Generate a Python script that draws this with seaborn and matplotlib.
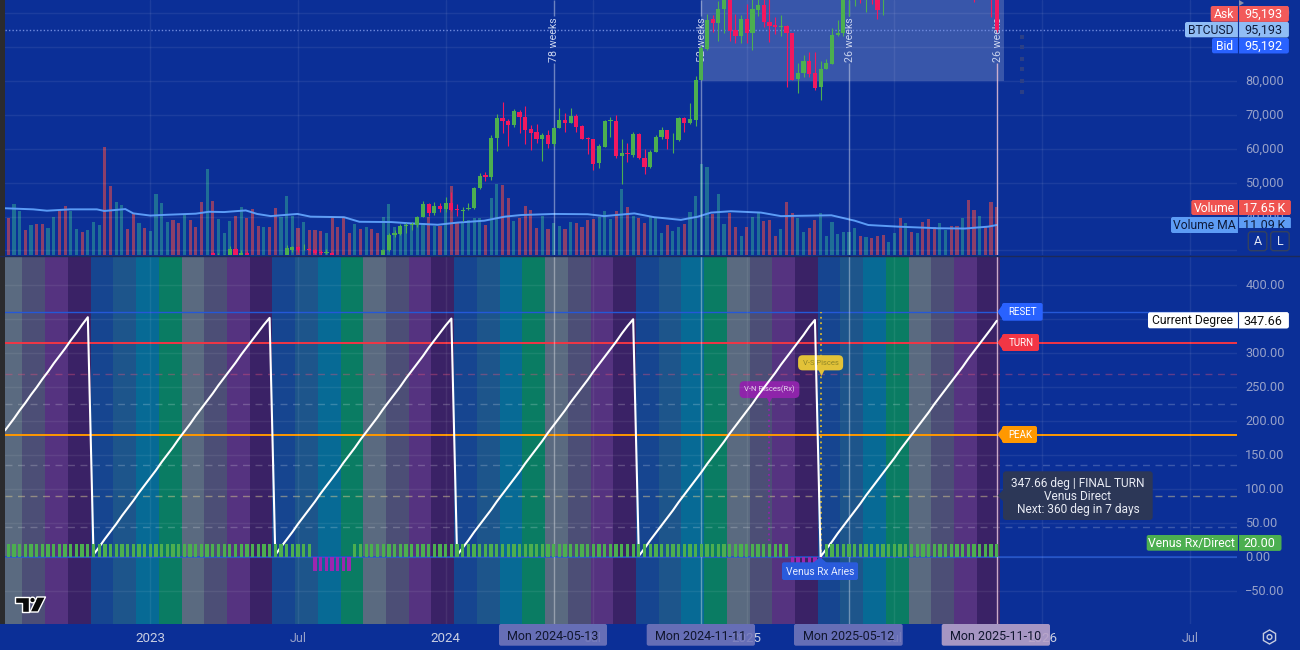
import numpy as np
import pandas as pd
import matplotlib.pyplot as plt
import seaborn as sns
from matplotlib.patches import FancyBboxPatch, Polygon, Rectangle, RegularPolygon, Circle
from matplotlib.transforms import ScaledTranslation

BG = "#0b2f97"
GREEN = "#4caf50"
RED = "#f2185f"

# weekly volume in thousands
volume = [
    13.6, 18.9, 16.4, 9.3, 11.0, 11.5, 11.5, 10.0, 14.2, 16.4,
    18.3, 16.4, 9.5, 8.5, 9.3, 12.1, 11.2, 39.9, 25.6, 19.6,
    18.4, 9.8, 15.4, 11.7, 10.0, 8.9, 22.5, 19.1, 12.2, 13.0,
    11.9, 14.8, 13.0, 10.2, 19.6, 31.9, 19.9, 13.2, 8.0, 12.6,
    14.4, 17.9, 13.8, 16.9, 10.7, 10.2, 10.4, 17.4, 14.0, 21.7,
    14.4, 10.0, 12.1, 9.1, 9.4, 8.9, 8.1, 13.6, 10.4, 13.6,
    8.3, 11.5, 9.6, 10.2, 9.5, 8.3, 14.2, 19.0, 10.2, 10.5,
    11.7, 11.5, 11.5, 11.7, 14.2, 10.7, 10.7, 17.3, 25.6, 11.7,
    12.3, 13.0, 13.6, 13.6, 11.0, 21.1, 26.3, 25.8, 21.1, 12.6,
    13.7, 18.1, 16.7, 10.0, 14.4, 9.5, 11.7, 10.7, 9.6, 12.2,
    11.7, 10.5, 13.0, 13.2, 14.2, 16.4, 13.2, 16.2, 24.3, 17.8,
    14.4, 13.7, 12.0, 14.0, 13.6, 8.1, 11.1, 9.0, 10.4, 11.5,
    15.8, 21.7, 33.6, 32.6, 15.2, 22.6, 11.4, 15.7, 10.4, 7.2,
    10.4, 14.2, 15.4, 12.6, 13.0, 6.9, 9.8, 19.8, 15.4, 13.7,
    8.5, 10.0, 13.0, 15.7, 6.9, 12.2, 7.9, 8.6, 8.4, 10.0,
    7.0, 6.7, 6.3, 7.0, 7.3, 4.9, 8.1, 13.8, 11.7, 8.5,
    8.1, 12.3, 13.3, 10.5, 11.9, 9.4, 10.7, 10.7, 13.6, 20.2,
    16.8, 14.4, 10.2, 19.6, 17.65,
]
volume_side = (
    "rttrtrrttr" "rttrtttrrt" "trrtrttttr" "rtrrrtrttt" "rtrrrtrrtt"
    "trtrrrtrrr" "rtrtrrtttt" "ttttrtrtrr" "ttttrttrrt" "rrrrtrttrt"
    "rrrrtttrtr" "trrtttrttr" "ttttrttrrt" "rttrrrtrrt" "trrttttttt"
    "rtrrrttrtr" "trrrttrrtr" "rtrrr"
)

ma_weeks = [-0.58, 4.4, 6.8, 10.9, 15.6, 16.9, 20.6, 22, 25, 28, 33, 35.3, 38, 41.8, 43.8, 46.2,
            50.9, 53.2, 59.1, 61.8, 67.4, 70.9, 75.6, 79.1, 83.8, 87.4, 90.3, 96, 102, 104.9,
            110.2, 113.7, 118.4, 121.4, 123.7, 127.2, 132.5, 136, 144.9, 149, 151.4, 156.6,
            163.7, 168.4, 172.5, 174]
ma_values = [17.3, 16.9, 16.4, 16.9, 16.9, 16.3, 17.0, 15.4, 14.6, 14.9, 15.3, 16.0, 15.9, 16.5, 15.2, 14.4,
             15.2, 14.2, 14.0, 12.3, 12.2, 11.7, 11.2, 12.0, 12.7, 14.2, 14.8, 15.2, 15.1, 14.4,
             15.4, 14.0, 13.0, 14.2, 15.7, 16.2, 15.7, 14.4, 14.7, 12.7, 11.1, 10.5,
             9.9, 9.8, 10.5, 11.09]

# candles inside the visible price window, prices in thousands
candle_weeks = [36, 37, 38, 39, 40, 41, 42, 49, 50, 51, 52, 53, 54, 55, 56, 57,
                66, 67, 68, 69, 70, 71, 72, 73, 74, 75, 76, 77, 78, 79, 80, 81, 82, 83, 84, 85, 86, 87, 88, 89,
                90, 91, 92, 93, 94, 95, 96, 97, 98, 99, 100, 101, 102, 103, 104, 105, 106, 107, 108, 109,
                110, 111, 112, 113, 114, 115, 116, 117, 118, 119, 120, 121, 122, 123, 124, 125, 126, 127, 128, 129,
                130, 131, 132, 133, 134, 135, 136, 137, 138, 139, 140, 141, 142, 143, 144, 145, 146, 147,
                148, 149, 150, 151, 152, 153, 154, 170, 173, 174]
candle_open = [29.4, 28.0, 28.0, 27.8, 30.5, 28.0, 29.2, 28.0, 30.0, 30.9, 30.3, 30.4, 30.2, 29.5, 29.3, 29.4,
               27.9, 30.0, 34.5, 34.9, 37.1, 37.4, 37.4, 39.9, 43.7, 41.2, 43.2, 42.3, 43.9, 42.1, 41.7, 42.1, 42.5, 48.3, 52.3, 51.8, 63.1, 69.1, 68.3, 67.1,
               71.0, 69.3, 65.8, 65.0, 62.9, 64.1, 61.4, 66.1, 68.5, 67.6, 69.7, 66.7, 63.2, 62.8, 55.8, 60.6, 68.3, 68.2, 58.0, 58.8,
               58.3, 64.3, 57.4, 54.7, 59.1, 63.4, 65.6, 62.8, 62.7, 69.1, 67.7, 68.5, 80.3, 89.5, 98.2, 97.0, 101.1, 106.0, 95.1, 93.3,
               98.3, 94.3, 100.9, 102.4, 97.5, 96.5, 96.0, 96.2, 94.2, 80.6, 82.3, 85.9, 82.3, 78.3, 83.5, 85.0, 93.6, 94.1,
               105.0, 106.0, 107.0, 106.0, 107.0, 106.0, 104.5, 108.0, 107.0, 106.0]
candle_close = [28.0, 28.4, 28.4, 30.4, 27.9, 29.2, 28.0, 30.7, 31.0, 30.1, 30.5, 30.2, 29.2, 29.2, 29.7, 28.6,
                30.0, 34.6, 35.1, 37.3, 37.5, 37.8, 39.9, 43.7, 41.2, 43.2, 42.2, 43.9, 41.8, 41.9, 42.0, 42.6, 48.3, 52.0, 51.6, 63.2, 69.0, 68.3, 67.1, 71.2,
                69.5, 65.6, 64.8, 62.9, 64.1, 61.4, 66.2, 68.5, 67.6, 69.7, 66.5, 62.9, 62.9, 55.6, 60.9, 68.2, 68.5, 57.9, 58.8, 58.5,
                64.3, 57.2, 54.7, 59.2, 63.5, 65.6, 62.8, 63.0, 69.0, 67.7, 68.7, 80.3, 89.8, 98.0, 97.0, 101.1, 106.0, 94.9, 93.4, 98.3,
                94.1, 101.1, 102.5, 97.5, 96.3, 96.0, 96.3, 94.1, 80.3, 82.3, 85.9, 82.1, 78.0, 83.5, 85.2, 93.6, 94.1, 105.0,
                107.0, 108.0, 106.0, 107.0, 106.0, 100.9, 106.0, 107.0, 106.0, 95.193]
candle_high = [29.5, 29.2, 29.0, 31.2, 30.6, 30.0, 29.8, 31.5, 31.3, 31.3, 31.9, 30.6, 30.4, 30.1, 30.4, 29.7,
               30.4, 35.2, 36.1, 37.7, 38.0, 38.5, 40.3, 44.7, 43.9, 44.4, 43.9, 45.9, 47.4, 43.7, 42.8, 43.9, 48.6, 52.8, 53.1, 64.0, 70.2, 73.7, 68.9, 71.6,
               71.5, 72.7, 67.0, 67.2, 64.6, 65.6, 66.5, 72.1, 70.7, 72.1, 70.2, 66.9, 63.4, 62.8, 61.4, 68.5, 69.3, 70.0, 62.9, 61.6,
               65.1, 64.6, 59.8, 59.7, 64.1, 66.5, 65.6, 64.6, 69.5, 69.5, 73.6, 81.5, 90.6, 99.8, 99.5, 103.6, 108.0, 108.0, 99.8, 99.5,
               102.7, 105.0, 106.0, 106.0, 105.0, 98.8, 99.5, 96.5, 94.2, 85.2, 87.7, 88.7, 88.5, 86.0, 86.4, 95.7, 98.0, 106.0,
               108.0, 109.0, 109.0, 108.0, 109.0, 107.0, 107.0, 110.0, 109.0, 108.0]
candle_low = [27.5, 27.5, 27.5, 27.5, 27.5, 27.6, 27.5, 27.6, 29.7, 29.7, 30.0, 30.0, 29.0, 28.7, 28.9, 27.9,
              27.5, 29.9, 34.1, 34.6, 35.1, 35.9, 36.9, 39.8, 40.2, 40.6, 41.4, 41.5, 41.6, 40.2, 38.6, 42.0, 42.3, 48.1, 50.6, 50.8, 59.4, 64.6, 60.9, 66.5,
              64.6, 61.4, 59.7, 61.6, 56.5, 60.2, 60.9, 66.1, 64.9, 67.6, 64.9, 62.9, 58.5, 53.6, 54.3, 60.5, 63.6, 57.2, 49.7, 56.2,
              57.7, 57.1, 52.6, 54.3, 59.0, 62.8, 60.0, 58.9, 62.4, 65.0, 67.3, 66.7, 80.3, 89.2, 94.6, 91.9, 94.1, 91.9, 91.1, 91.1,
              91.1, 89.2, 99.3, 96.0, 91.4, 93.9, 93.3, 78.2, 80.3, 76.6, 81.1, 81.1, 77.4, 74.4, 83.4, 85.0, 93.3, 93.4,
              99.2, 102.1, 103.0, 100.4, 102.7, 98.3, 99.5, 103.3, 98.9, 94.5]

dot_week = 178.5
dot_prices = [93.1, 89.9, 86.6, 83.4, 80.1, 76.9]

# 32 week degree cycles, the first point is the left edge of the pane
degree_weeks = [-0.58] + list(range(175))
degree = [
    186.5,
    193, 204, 216, 227, 239, 250, 262, 273, 285, 296, 307, 319, 330, 342, 353,
    4, 15, 27, 38, 49, 61, 72, 83, 95, 106, 117, 128, 140, 151, 162, 174,
    185, 196, 208, 219, 230, 241, 253, 264, 275, 286, 298, 309, 320, 331, 342, 352,
    3.5, 15, 26, 37, 49, 60, 71, 82, 94, 105, 116, 127, 139, 150, 161, 173,
    184, 195, 206, 218, 229, 240, 251, 263, 274, 285, 296, 308, 319, 330, 341, 351,
    3, 14, 25, 37, 48, 59, 70, 82, 93, 104, 115, 126, 138, 149, 160, 171,
    183, 194, 205, 216, 228, 239, 250, 261, 273, 284, 295, 306, 317, 329, 340, 350,
    2, 13, 25, 36, 47, 58, 69, 81, 92, 103, 114, 125, 137, 148, 159, 170,
    182, 193, 204, 215, 226, 238, 249, 260, 271, 283, 294, 305, 316, 327, 339, 349,
    1, 12, 23, 35, 46, 57, 68, 79, 91, 102, 113, 124, 135, 146, 158, 169,
    180, 191, 202, 213, 225, 236, 247, 258, 269, 280, 292, 303, 314, 325, 336, 347.66,
]
rx_weeks = [54, 55, 56, 57, 58, 59, 60, 138, 139, 140, 141, 142, 143]

band_colors = ["#5a6a80", "#4c4e76", "#553380", "#3a2266", "#164590", "#1d558b", "#076a95", "#0a7c63"]
marker_weeks = [96, 122, 148, 174]
marker_labels = ["78 weeks", "52 weeks", "26 weeks", "26 weeks"]
date_tags = ["Mon 2024-05-13", "Mon 2024-11-11", "Mon 2025-05-12", "Mon 2025-11-10"]
tick_weeks = [25, 51, 77, 103, 130, 156, 182, 208]
tick_names = ["2023", "Jul", "2024", "Jul", "2025", "Jul", "2026", "Jul"]
price_ticks = [30, 40, 50, 60, 70, 80, 90, 100]
degree_ticks = [-50, 0, 50, 100, 150, 200, 250, 300, 350, 400]

weeks = np.arange(len(volume))
df_vol = pd.DataFrame({"week": weeks, "volume": volume, "side": list(volume_side)})
df_rx = pd.DataFrame({
    "week": weeks,
    "state": ["rx" if w in rx_weeks else "direct" for w in weeks],
})
df_rx["value"] = [-20 if s == "rx" else 20 for s in df_rx["state"]]
df_deg = pd.DataFrame({"week": degree_weeks, "degree": degree})

sns.set_theme(style="dark")
plt.rcParams["font.family"] = ["Roboto", "DejaVu Sans"]

W, H = 1300, 650
fig = plt.figure(figsize=(13, 6.5), dpi=100, facecolor=BG)
X_LEFT, X_RIGHT = -0.58, 216.3
nudge_up = ScaledTranslation(0, 1 / 100, fig.dpi_scale_trans)


def pane(y0, y1, zorder=1):
    return fig.add_axes([5 / W, 1 - y1 / H, (1237 - 5) / W, (y1 - y0) / H], zorder=zorder)


# --- price pane ---
ax_vol = pane(0, 255, 1)
ax_vol.set_facecolor(BG)
sns.barplot(data=df_vol, x="week", y="volume", hue="side", palette={"r": "#8b3f6a", "t": "#1f6e96"},
            native_scale=True, dodge=False, width=0.55, saturation=1, linewidth=0, legend=False, ax=ax_vol)
sns.lineplot(x=ma_weeks, y=ma_values, color="#5b9cf6", lw=1.4, ax=ax_vol)
ax_vol.set_ylim(0, 94.4)
ax_vol.set_xlim(X_LEFT, X_RIGHT)
ax_vol.axis("off")

ax_price = pane(0, 255, 2)
ax_price.set_facecolor("none")
ax_price.set_xlim(X_LEFT, X_RIGHT)
ax_price.set_ylim(28.67, 103.9)
ax_price.yaxis.tick_right()
ax_price.set_yticks(price_ticks)
ax_price.set_yticklabels(["" if p == 30 else f"{p * 1000:,}" for p in price_ticks], fontsize=9.2, color="#97a1c9")
ax_price.set_xticks(tick_weeks)
ax_price.tick_params(length=0, pad=6, labelbottom=False)
ax_price.grid(True, color="white", alpha=0.07, lw=1)
ax_price.set_axisbelow(True)
ax_price.fill_between([122, 175.2], 80, 103.9, color="white", alpha=0.19, lw=0, zorder=1)
ax_price.axhline(95.193, color="#6f8ade", lw=1, ls=(0, (1, 1.5)), zorder=2)

for wk, lab in zip(marker_weeks, marker_labels):
    col = "#dcb9d2" if wk == 174 else "white"
    alpha = 0.9 if wk == 174 else 0.4
    ax_price.vlines(wk, 99.2, 103.9, color=col, alpha=alpha, lw=1, zorder=2)
    ax_price.vlines(wk, 28.67, 85.2, color=col, alpha=alpha, lw=1, zorder=2)
    ax_price.text(wk + 0.15, 92.1, lab, rotation=90, ha="center", va="center", fontsize=7.7,
                  color="#c9d3ee", zorder=2)

candle_open = np.array(candle_open)
candle_close = np.array(candle_close)
candle_colors = [GREEN if c >= o else RED for o, c in zip(candle_open, candle_close)]
ax_price.vlines(candle_weeks, candle_low, candle_high, colors=candle_colors, lw=0.8, zorder=3)
ax_price.bar(candle_weeks, np.maximum(np.abs(candle_close - candle_open), 0.15),
             bottom=np.minimum(candle_open, candle_close), width=0.74, color=candle_colors, lw=0, zorder=4)
ax_price.scatter([dot_week] * len(dot_prices), dot_prices, marker="s", s=9, color="#2b3f86", lw=0, zorder=2)

# --- degree pane ---
ax_deg = pane(256, 624, 2)
ax_deg.set_facecolor(BG)
ax_deg.set_xlim(X_LEFT, X_RIGHT)
ax_deg.set_ylim(-98.1, 443)
for i, start in enumerate(range(-1, 175, 4)):
    ax_deg.axvspan(start - 0.5 if start >= 0 else X_LEFT, start + 3.5,
                   color=band_colors[i % 8], lw=0, zorder=0)
ax_deg.yaxis.tick_right()
ax_deg.set_yticks(degree_ticks)
ax_deg.set_yticklabels([f"{d:.2f}".replace("-", "\u2212") for d in degree_ticks], fontsize=9.2, color="#97a1c9")
ax_deg.set_xticks(tick_weeks)
ax_deg.set_xticklabels(tick_names, fontsize=9, color="#97a1c9")
for lab, name in zip(ax_deg.get_xticklabels(), tick_names):
    if name != "Jul":
        lab.set_color("#c9cee2")
        lab.set_fontsize(9.6)
ax_deg.tick_params(axis="y", length=0, pad=6)
ax_deg.tick_params(axis="x", length=0, pad=6)
ax_deg.grid(True, color="white", alpha=0.07, lw=1)
ax_deg.set_axisbelow(False)
for artist in ax_deg.get_xgridlines() + ax_deg.get_ygridlines():
    artist.set_zorder(1)

for level, col, alpha in [(270, "#e0507a", 0.4), (225, "white", 0.2), (135, "white", 0.2),
                          (90, "#d8c890", 0.5), (45, "white", 0.2)]:
    ax_deg.axhline(level, color=col, alpha=alpha, lw=1, ls=(0, (5, 4)), zorder=1)
ax_deg.axhline(360, color="#2458d8", lw=1, zorder=1.5)
ax_deg.axhline(0, color="#1e50c8", lw=1.2, zorder=1.5)
ax_deg.axhline(315, color="#f23645", lw=1.4, zorder=1.5)
ax_deg.axhline(180, color="#ff9800", lw=1.4, zorder=1.5)

ax_deg.vlines(134, 0, 240, color="#8e24aa", lw=1.3, ls=(0, (1, 2)), zorder=1.6)
ax_deg.vlines(143, 0, 360, color="#d8b830", lw=1.3, ls=(0, (1, 2)), zorder=1.6)
for wk in marker_weeks:
    col = "#dcb9d2" if wk == 174 else "white"
    ax_deg.axvline(wk, color=col, alpha=0.9 if wk == 174 else 0.36, lw=1, zorder=1.7)

for txt, wk, y, fc, tc, fs in [("V-S Pisces", 143, 286, "#e2c238", "#8f8628", 5.5),
                               ("V-N Pisces(Rx)", 134, 246.5, "#8e24aa", "#e6d6ec", 5.5)]:
    ax_deg.text(wk, y, txt, ha="center", va="center", fontsize=fs, color=tc, zorder=2,
                bbox=dict(boxstyle="round,pad=0.6", fc=fc, ec="none"))
    ax_deg.scatter([wk], [y - 14], marker="v", s=26, color=fc, lw=0, zorder=2)

sns.lineplot(data=df_deg, x="week", y="degree", color="white", lw=1.5, ax=ax_deg, zorder=3)
sns.barplot(data=df_rx, x="week", y="value", hue="state", palette={"direct": GREEN, "rx": "#9c27b0"},
            native_scale=True, dodge=False, width=0.58, saturation=1, linewidth=0, legend=False, ax=ax_deg, zorder=4)
ax_deg.set_xlim(X_LEFT, X_RIGHT)
ax_deg.set_ylim(-98.1, 443)
for spine_ax in (ax_price, ax_deg):
    spine_ax.set_xlabel("")
    spine_ax.set_ylabel("")
    for s in spine_ax.spines.values():
        s.set_visible(False)
    for lab in spine_ax.get_yticklabels():
        lab.set_transform(lab.get_transform() + nudge_up)

# --- chart furniture in pixel coordinates ---
ui = fig.add_axes([0, 0, 1, 1], zorder=10)
ui.set_xlim(0, W)
ui.set_ylim(H, 0)
ui.axis("off")


def box(x0, y0, x1, y1, color, radius=2, alpha=1.0, ec="none", lw=0):
    ui.add_patch(FancyBboxPatch((x0 + radius, y0 + radius), x1 - x0 - 2 * radius, y1 - y0 - 2 * radius,
                                boxstyle=f"round,pad={radius},rounding_size={radius}",
                                fc=color, ec=ec, lw=lw, alpha=alpha))


def label(x, y, txt, color="white", size=9, ha="center"):
    # y is the middle of the digits, the baseline sits a bit under it
    return ui.text(x, y + size * 0.48, txt, color=color, fontsize=size, ha=ha, va="baseline")


def price_tag(y0, y1, left, right, name, value, c_name, c_value, text_color="white"):
    box(left, y0, right, y1, c_name)
    box(1237.5, y0, right, y1, c_value)
    ui.plot([1237.5, 1237.5], [y0, y1], color=BG, lw=0.8)
    label((left + 1237) / 2, (y0 + y1) / 2, name, text_color, 8.7)
    label((1238 + right) / 2, (y0 + y1) / 2, value, text_color, 9.1)


ui.add_patch(Rectangle((0, 0), 4.5, 624, fc="#2b2b2e", ec="none"))
ui.plot([0, W], [255.5, 255.5], color="#1d2a58", lw=1)
ui.add_patch(Polygon([(1239, 0), (1244, 3), (1239, 6)], fc="#8a8fa8", ec="none"))

price_tag(6, 21.7, 1210.7, 1288.7, "Ask", "95,193", "#f25a5a", "#f25a5a")
price_tag(22, 37.3, 1185, 1288.7, "BTCUSD", "95,193", "#90bdf5", "#90bdf5", "#0e1a3a")
price_tag(38, 53.3, 1212, 1288.7, "Bid", "95,192", "#2962ff", "#2962ff")
price_tag(200, 215, 1191.3, 1290.7, "Volume", "17.65\u2009K", "#ef5350", "#ef5350")
price_tag(217, 233, 1171, 1290.7, "Volume MA", "11.09\u2009K", "#5d9cf5", "#5d9cf5", "#0e1a3a")
ui.add_patch(Rectangle((1238, 227.5), 54, 6, fc=BG, ec="none", zorder=5))
for x0, txt in [(1248.3, "A"), (1270.7, "L")]:
    ui.add_patch(FancyBboxPatch((x0 + 3, 234.7), 12.5, 13, boxstyle="round,pad=3,rounding_size=3",
                                fc=BG, ec="#33415f", lw=1, zorder=6))
    ui.text(x0 + 9.2, 241.2, txt, color="#dfe4f2", fontsize=9, ha="center", va="center", zorder=7)

price_tag(312.3, 328.3, 1148, 1288.7, "Current Degree", "347.66", "white", "white", "#111111")
price_tag(535, 550.7, 1146.7, 1281.3, "Venus Rx/Direct", "20.00", GREEN, GREEN)

for y0, y1, x1, txt, col in [(303, 320.7, 1042.7, "RESET", "#2962ff"),
                             (334, 351, 1039, "TURN", "#f23645"),
                             (426, 443, 1037, "PEAK", "#ff9800")]:
    ui.add_patch(Polygon([(997.5, (y0 + y1) / 2), (1003, y0 + 1), (1003, y1 - 1)], fc=col, ec="none"))
    box(1002, y0, x1, y1, col)
    label((1003 + x1) / 2, (y0 + y1) / 2, txt, size=7)

# tooltip
ui.add_patch(Polygon([(997.5, 495.7), (1004, 489), (1004, 502)], fc="#2c3757", ec="none"))
box(1003, 471.3, 1152.7, 520, "#2c3757", radius=3)
label(1078, 483, "347.66 deg | FINAL TURN", "#e8ebf4", 8.6)
label(1078, 496, "Venus Direct", "#e8ebf4", 8.6)
label(1078, 508.5, "Next: 360 deg in 7 days", "#e8ebf4", 8.6)

# venus rx label under the zero line
ui.add_patch(Polygon([(820, 557), (813, 563), (827, 563)], fc="#2a5bdc", ec="none"))
box(782, 562.3, 858, 580, "#2a5bdc")
label(820, 571.2, "Venus Rx Aries", "#e6ecff", 7.4)

# date tags on the time scale
for (x0, x1), txt, col, al in zip([(499, 607), (646.7, 755), (794, 902.7), (941.7, 1050)], date_tags,
                                  ["#7478bb", "#7478bb", "#7478bb", "#b8a2c8"], [0.88, 0.88, 0.88, 0.9]):
    box(x0, 624, x1, 645.7, col, alpha=al)
    label((x0 + x1) / 2, 635.5, txt, "#10162e", 9)

# tradingview logo
for pts in ([(15, 597), (29, 597), (29, 612), (22, 612), (22, 603), (15, 603)],
            [(37, 597), (45.5, 597), (38, 612), (30, 612)]):
    ui.add_patch(Polygon(pts, fc="#0a0a0a", ec="white", lw=1, joinstyle="round"))
ui.add_patch(Circle((32.5, 600), 2.8, fc="#0a0a0a", ec="white", lw=1))

# settings icon
ui.add_patch(RegularPolygon((1269.5, 637), 6, radius=7, fc="none", ec="#c5cce0", lw=1))
ui.add_patch(Circle((1269.5, 637), 2.4, fc="none", ec="#c5cce0", lw=1))

fig.savefig("out.png", dpi=100, facecolor=BG)
